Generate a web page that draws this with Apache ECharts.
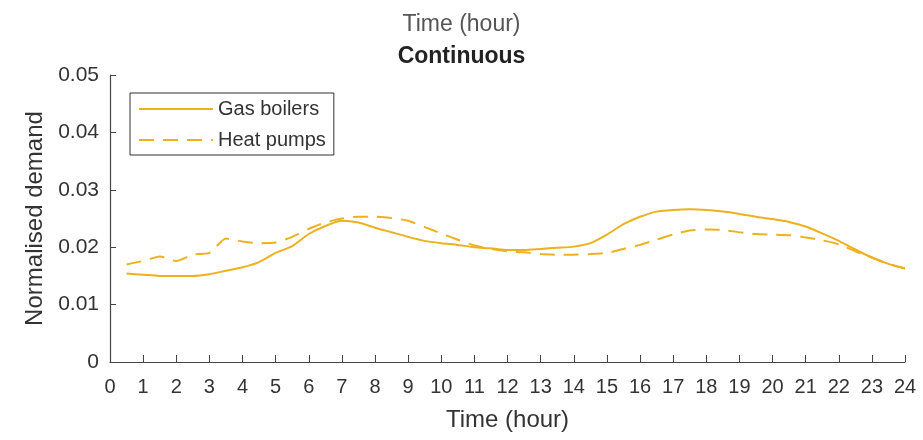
<!DOCTYPE html>
<html>
<head>
<meta charset="utf-8">
<script src="https://cdn.jsdelivr.net/npm/echarts@6/dist/echarts.min.js"></script>
<style>
html,body{margin:0;padding:0;background:#fff;}
#chart{width:923px;height:440px;}
</style>
</head>
<body>
<div id="chart"></div>
<script>
var hours = [0.5,1,1.5,2,2.5,3,3.5,4,4.5,5,5.5,6,6.5,7,7.5,8,8.5,9,9.5,10,10.5,11,11.5,12,
             12.5,13,13.5,14,14.5,15,15.5,16,16.5,17,17.5,18,18.5,19,19.5,20,20.5,21,21.5,22,22.5,23,23.5,24];
var gasBoilers = [0.0154,0.0152,0.0150,0.0150,0.0150,0.0153,0.0159,0.0165,0.0174,0.0190,0.0202,0.0223,
                  0.0237,0.0246,0.0243,0.0234,0.0226,0.0218,0.0211,0.0207,0.0204,0.0200,0.0198,0.0195,
                  0.0195,0.0197,0.0199,0.0201,0.0207,0.0222,0.0240,0.0253,0.0262,0.0265,0.0266,0.0265,
                  0.0262,0.0258,0.0253,0.0249,0.0244,0.0236,0.0224,0.0211,0.0196,0.0182,0.0171,0.0163];
var heatPumps = [0.0170,0.0176,0.0184,0.0176,0.0187,0.0190,0.0215,0.0210,0.0207,0.0208,0.0218,0.0232,
                 0.0243,0.0250,0.0253,0.0253,0.0251,0.0246,0.0235,0.0224,0.0213,0.0203,0.0197,0.0193,
                 0.0191,0.0188,0.0187,0.0187,0.0188,0.0190,0.0197,0.0204,0.0213,0.0222,0.0229,0.0231,
                 0.0230,0.0226,0.0223,0.0222,0.0221,0.0217,0.0212,0.0205,0.0193,0.0182,0.0171,0.0163];
var seriesNames = ['Gas boilers','Heat pumps'];
var titleTop = 'Time (hour)';
var titleMain = 'Continuous';
var xName = 'Time (hour)';
var yName = 'Normalised demand';

function pairs(vals){ return hours.map(function(h,i){ return [h, vals[i]]; }); }

var font = 'Liberation Sans, Arial, Helvetica, sans-serif';
var color = '#EDB120';
var chart = echarts.init(document.getElementById('chart'), null, {renderer:'canvas'});
chart.setOption({
  animation:false,
  backgroundColor:'#fff',
  title:[
    {text:titleTop, left:'center', top:8, textStyle:{fontFamily:font,fontSize:23,fontWeight:'normal',color:'#555'}},
    {text:titleMain, left:'center', top:40, textStyle:{fontFamily:font,fontSize:23,fontWeight:'bold',color:'#222'}}
  ],
  grid:{left:110, right:18, top:75, bottom:78},
  legend:{
    left:130, top:93, orient:'vertical',
    padding:[6,8,5,8], itemGap:11, itemWidth:74, itemHeight:20,
    borderColor:'#333', borderWidth:1, backgroundColor:'#fff',
    itemStyle:{opacity:0},
    textStyle:{fontFamily:font,fontSize:20,color:'#333'},
    data:seriesNames
  },
  xAxis:{
    type:'value', min:0, max:24, interval:1,
    name:xName, nameLocation:'middle', nameGap:46,
    nameTextStyle:{fontFamily:font,fontSize:24,color:'#333'},
    axisLine:{show:true,onZero:false,lineStyle:{color:'#444',width:1.2}},
    axisTick:{show:true,inside:true,length:7,lineStyle:{color:'#444'}},
    axisLabel:{fontFamily:font,fontSize:20,color:'#333',margin:15},
    splitLine:{show:false}
  },
  yAxis:{
    type:'value', min:0, max:0.05, interval:0.01,
    name:yName, nameLocation:'middle', nameGap:57, nameRotate:90,
    nameTextStyle:{fontFamily:font,fontSize:24,color:'#333'},
    axisLine:{show:true,lineStyle:{color:'#444',width:1.2}},
    axisTick:{show:true,inside:true,length:6,lineStyle:{color:'#444'}},
    axisLabel:{fontFamily:font,fontSize:21,color:'#333',margin:11},
    splitLine:{show:false}
  },
  series:[
    {name:seriesNames[0], type:'line', data:pairs(gasBoilers), symbol:'none', smooth:0.2,
     lineStyle:{color:color,width:2,type:'solid'}, itemStyle:{color:color}},
    {name:seriesNames[1], type:'line', data:pairs(heatPumps), symbol:'none', smooth:0.2,
     lineStyle:{color:color,width:2,type:[15,9]}, itemStyle:{color:color}}
  ]
});
</script>
</body>
</html>
